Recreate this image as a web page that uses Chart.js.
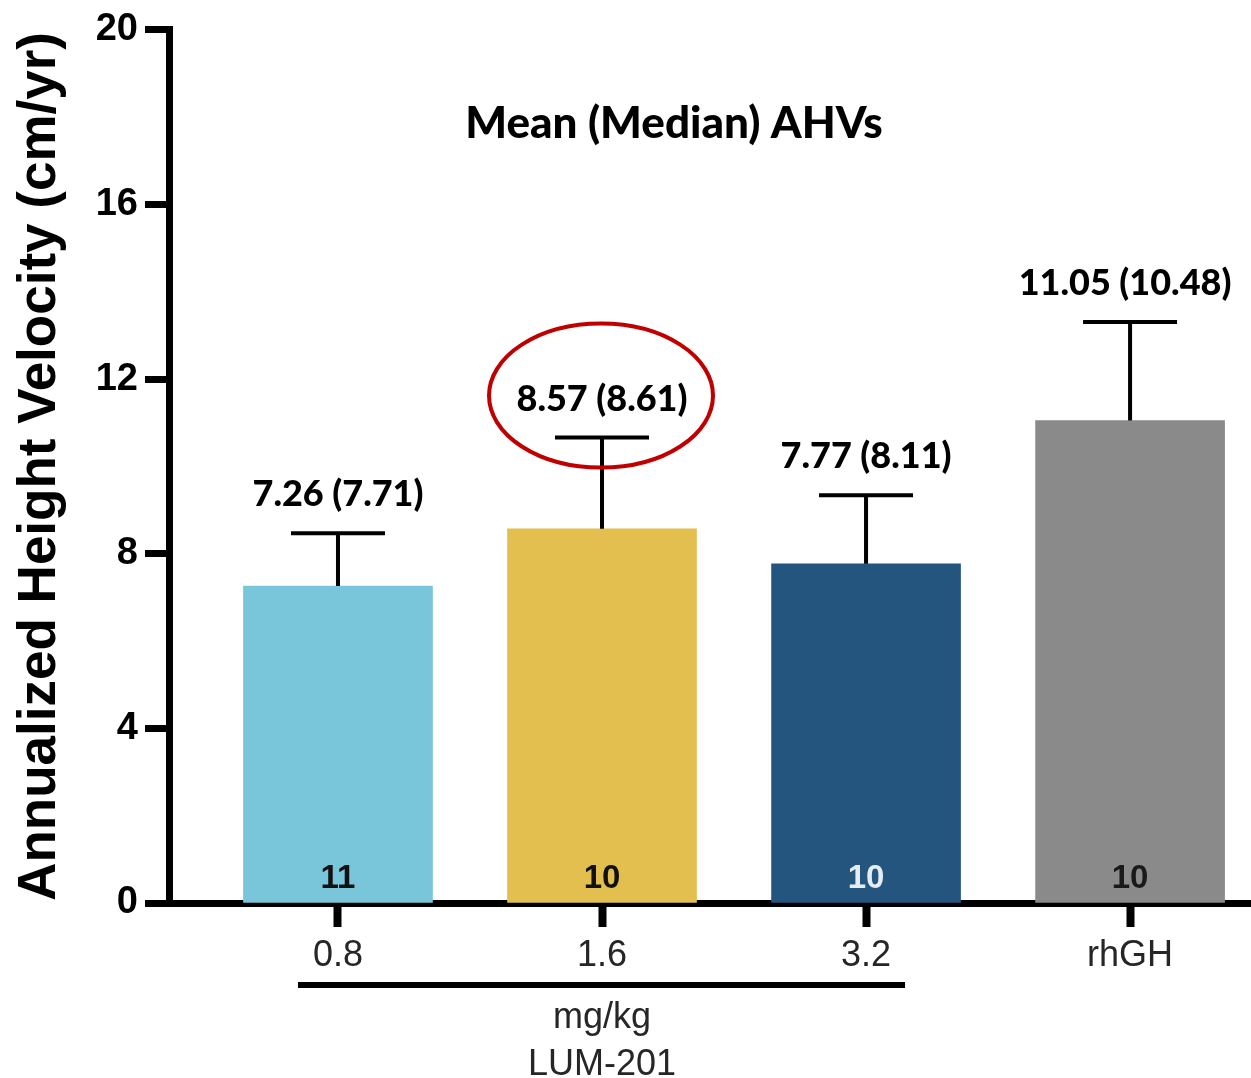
<!DOCTYPE html>
<html>
<head>
<meta charset="utf-8">
<title>Mean (Median) AHVs</title>
<script src="https://cdn.jsdelivr.net/npm/chart.js@4.4.0/dist/chart.umd.min.js"></script>
<style>
  html, body { margin: 0; padding: 0; background: #fff; }
  #wrap { width: 1251px; height: 1078px; }
</style>
</head>
<body>
<div id="wrap"><canvas id="myChart" width="1251" height="1078"></canvas></div>
<script>
// groups on the x axis
const categories = ["0.8", "1.6", "3.2", "rhGH"];
// mean AHV (cm/yr) per group
const means = [7.26, 8.57, 7.77, 11.05];
// median AHV, only shown in the label
const medians = [7.71, 8.61, 8.11, 10.48];
// upper error bar length
const sds = [1.21, 2.09, 1.57, 2.26];
// n per group
const counts = [11, 10, 10, 10];
const yTicks = [0, 4, 8, 12, 16, 20];

const barColors = ["#79c5da", "#e3bf4f", "#24557f", "#8a8a8a"];
const countColors = ["#111111", "#111111", "#e6ecf2", "#1a1a1a"];

const ARIAL = "'Liberation Sans', Arial, sans-serif";
const CALIBRI = "Lato, 'Open Sans', sans-serif";

//error bars, value labels, n counts, title and the dose bracket
const annotations = {
  id: "annotations",
  afterDatasetsDraw(chart) {
    const ctx = chart.ctx;
    const x = chart.scales.x;
    const y = chart.scales.y;
    ctx.save();
    ctx.textAlign = "center";
    ctx.textBaseline = "alphabetic";

    means.forEach((m, i) => {
      const cx = x.getPixelForValue(i);
      const yTop = y.getPixelForValue(m + sds[i]);

      ctx.strokeStyle = "#000";
      ctx.lineWidth = 4;
      ctx.beginPath();
      ctx.moveTo(cx, y.getPixelForValue(m));
      ctx.lineTo(cx, yTop);
      ctx.moveTo(cx - 47, yTop);
      ctx.lineTo(cx + 47, yTop);
      ctx.stroke();

      ctx.fillStyle = "#000";
      ctx.font = "900 36px " + CALIBRI;
      const lx = i === 3 ? cx - 5 : cx;
      ctx.fillText(m.toFixed(2) + " (" + medians[i].toFixed(2) + ")", lx, yTop - 27);

      ctx.fillStyle = countColors[i];
      ctx.font = "bold 33px " + ARIAL;
      ctx.fillText(String(counts[i]), cx, y.getPixelForValue(0) - 15);
    });

    // red circle around the 1.6 mg/kg label
    const ex = x.getPixelForValue(1) - 1;
    const ey = y.getPixelForValue(means[1] + sds[1]) - 42;
    ctx.strokeStyle = "#c00000";
    ctx.lineWidth = 4;
    ctx.beginPath();
    ctx.ellipse(ex, ey, 112, 72, 0, 0, Math.PI * 2);
    ctx.stroke();

    // chart title
    ctx.fillStyle = "#000";
    ctx.font = "900 44px " + CALIBRI;
    ctx.fillText("Mean (Median) AHVs", 674, 138);
    ctx.restore();
  },
  afterDraw(chart) {
    const ctx = chart.ctx;
    const x = chart.scales.x;
    ctx.save();
    // bracket under the LUM-201 doses
    ctx.strokeStyle = "#000";
    ctx.lineWidth = 6;
    ctx.beginPath();
    ctx.moveTo(x.getPixelForValue(0) - 40, 985);
    ctx.lineTo(x.getPixelForValue(2) + 39, 985);
    ctx.stroke();

    ctx.fillStyle = "#262626";
    ctx.font = "36px " + ARIAL;
    ctx.textAlign = "center";
    ctx.fillText("mg/kg", x.getPixelForValue(1), 1028);
    ctx.fillText("LUM-201", x.getPixelForValue(1), 1075);
    ctx.restore();
  }
};

const ctx = document.getElementById("myChart");
new Chart(ctx, {
  type: "bar",
  data: {
    datasets: [
      {
        label: "AHV",
        data: means.map((m, i) => ({ x: i, y: m })),
        backgroundColor: barColors,
        borderWidth: 0,
        barThickness: 189,
      },
    ],
  },
  options: {
    responsive: false,
    devicePixelRatio: 1,
    animation: false,
    layout: { padding: { top: 27, right: 0, bottom: 0, left: 0 } },
    plugins: {
      legend: { display: false },
      tooltip: { enabled: false },
    },
    scales: {
      x: {
        type: "linear",
        min: -0.64,
        max: 3.458,
        offset: false,
        z: 1,
        afterBuildTicks: (s) => {
          s.ticks = categories.map((c, i) => ({ value: i }));
        },
        afterFit: (s) => {
          s.height = 175;
        },
        ticks: {
          callback: (v, i) => categories[i],
          font: { family: ARIAL, size: 36 },
          color: "#262626",
          padding: 7,
          autoSkip: false,
          maxRotation: 0,
        },
        grid: { offset: false, drawOnChartArea: false, tickLength: 24, tickWidth: 8, tickColor: "#000" },
        border: { display: true, color: "#000", width: 7 },
      },
      y: {
        min: 0,
        max: 20,
        z: 1,
        afterBuildTicks: (s) => {
          s.ticks = yTicks.map((v) => ({ value: v }));
        },
        afterFit: (s) => {
          s.width = 169;
        },
        ticks: {
          font: { family: ARIAL, size: 38, weight: "bold" },
          color: "#000",
          padding: 7,
        },
        grid: { drawOnChartArea: false, tickLength: 24, tickWidth: 7, tickColor: "#000" },
        border: { display: true, color: "#000", width: 7 },
        title: {
          display: true,
          text: "Annualized Height Velocity (cm/yr)",
          font: { family: ARIAL, size: 53, weight: "bold" },
          color: "#000",
          padding: { top: 9, bottom: 0 },
        },
      },
    },
  },
  plugins: [annotations],
});
</script>
</body>
</html>
